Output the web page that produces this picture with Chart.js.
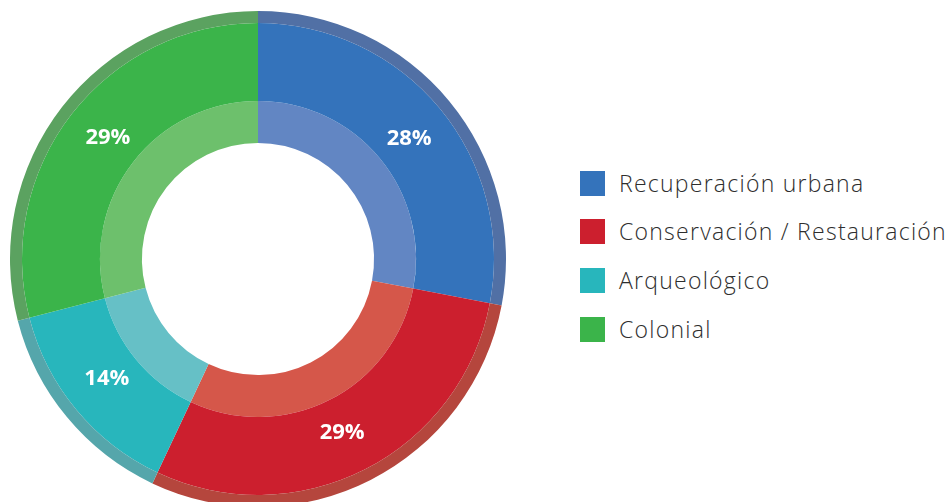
<!DOCTYPE html>
<html>
<head>
<meta charset="utf-8">
<script src="https://cdn.jsdelivr.net/npm/chart.js@4.4.1/dist/chart.umd.min.js"></script>
<style>
  html, body { margin: 0; padding: 0; background: #fff; width: 951px; height: 502px; overflow: hidden; }
  #wrap { position: absolute; left: 10px; top: 11px; width: 496px; height: 496px; }
  #leyenda { position: absolute; left: 580px; top: 0; font-family: "Open Sans", sans-serif; font-weight: 300; font-size: 23px; letter-spacing: 1.25px; color: #2e2e2e; }
  .item { position: absolute; left: 0; white-space: nowrap; height: 26px; }
  .cuadro { position: absolute; left: 0; top: 0; width: 25px; height: 25px; }
  .texto { position: absolute; left: 39px; top: -3px; line-height: 30px; }
</style>
</head>
<body>
<div id="wrap"><canvas id="tiposChart" width="496" height="496"></canvas></div>
<div id="leyenda"></div>
<script>
var categorias = ['Recuperación urbana', 'Conservación / Restauración', 'Arqueológico', 'Colonial'];
var porcentajes = [28, 29, 14, 29];

// colores por anillo: borde exterior, banda principal, banda interior
var coloresBorde = ['#5170a5', '#b5463d', '#55a6ab', '#5ba260'];
var coloresBase = ['#3473bb', '#cc1f2e', '#28b6bc', '#3bb44a'];
var coloresClaro = ['#6286c3', '#d5574a', '#66c0c6', '#6dc06c'];

// etiquetas de porcentaje sobre la banda principal
var etiquetasPlugin = {
    id: 'etiquetas',
    afterDatasetsDraw: function(chart) {
        var ctx = chart.ctx;
        var meta = chart.getDatasetMeta(1);
        ctx.save();
        ctx.fillStyle = '#fff';
        ctx.font = 'bold 22px "Open Sans", sans-serif';
        ctx.textAlign = 'center';
        ctx.textBaseline = 'middle';
        meta.data.forEach(function(arc, i) {
            var mid = (arc.startAngle + arc.endAngle) / 2 + 0.02;
            var r = 193;
            ctx.fillText(porcentajes[i] + '%', arc.x + Math.cos(mid) * r, arc.y + Math.sin(mid) * r);
        });
        ctx.restore();
    }
};

var ctx = document.getElementById('tiposChart').getContext('2d');
var tiposChart = new Chart(ctx, {
    type: 'doughnut',
    data: {
        labels: categorias,
        datasets: [{
            data: porcentajes,
            backgroundColor: coloresBorde,
            borderWidth: 0,
            weight: 12
        }, {
            data: porcentajes,
            backgroundColor: coloresBase,
            borderWidth: 0,
            weight: 78
        }, {
            data: porcentajes,
            backgroundColor: coloresClaro,
            borderWidth: 0,
            weight: 42
        }]
    },
    options: {
        responsive: false,
        animation: false,
        cutout: '46.8%',
        layout: { padding: 0 },
        plugins: {
            legend: { display: false },
            tooltip: { enabled: false }
        }
    },
    plugins: [etiquetasPlugin]
});

// leyenda a la derecha
var leyenda = document.getElementById('leyenda');
var posiciones = [171, 219, 268, 317];
categorias.forEach(function(cat, i) {
    var item = document.createElement('div');
    item.className = 'item';
    item.style.top = posiciones[i] + 'px';
    item.innerHTML = '<div class="cuadro" style="background:' + coloresBase[i] + '"></div><div class="texto">' + cat + '</div>';
    leyenda.appendChild(item);
});
</script>
</body>
</html>
